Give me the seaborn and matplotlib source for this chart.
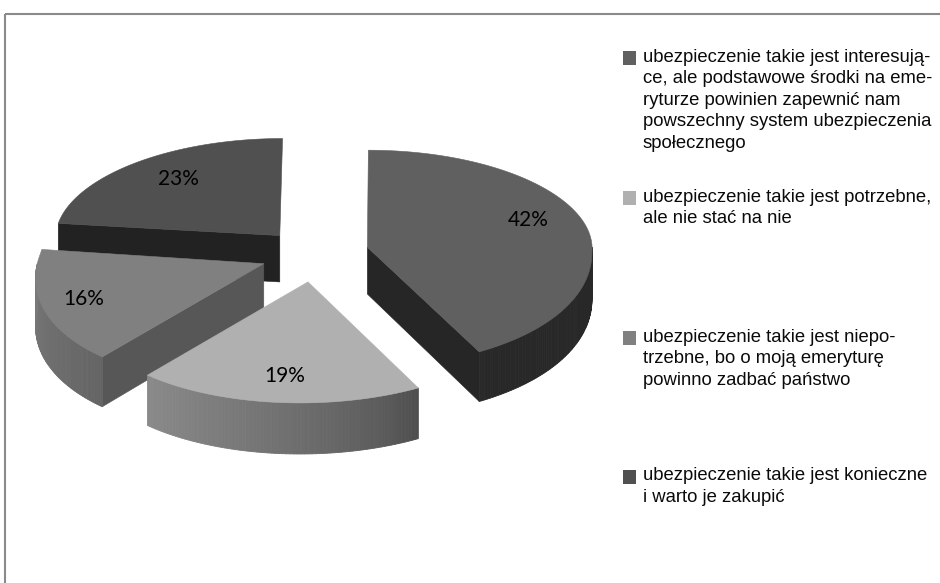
import numpy as np
import matplotlib
matplotlib.use("Agg")
import matplotlib.pyplot as plt
import seaborn as sns
from matplotlib.patches import Polygon, Rectangle

# ---------------- data ----------------
categories = [
    "ubezpieczenie takie jest interesują-\nce, ale podstawowe środki na eme-\nryturze powinien zapewnić nam\npowszechny system ubezpieczenia\nspołecznego",
    "ubezpieczenie takie jest potrzebne,\nale nie stać na nie",
    "ubezpieczenie takie jest niepo-\ntrzebne, bo o moją emeryturę\npowinno zadbać państwo",
    "ubezpieczenie takie jest konieczne\ni warto je zakupić",
]
shares = [42, 19, 16, 23]
pct_labels = ["42%", "19%", "16%", "23%"]

# ---------------- style ----------------
top_colors = ["#606060", "#b0b0b0", "#808080", "#505050"]
side_colors = ["#262626", "#6a6a6a", "#575757", "#222222"]
label_r = [0.74, 0.75, 0.82, 0.70]
label_dy = [-9, 4, -1, -6]

sns.set_theme(style="white")

CX, CY = 315, 253      # pie centre (px)
RX, RYB, RYF = 225, 97, 121   # horizontal radius, back / front vertical radii
XV = 418               # perspective centre (x)
PXF, PXB = 0.075, 0.02 # perspective widening front / narrowing back
EXP = 0.24             # explode fraction
D = 47                 # thickness (px)

fig = plt.figure(figsize=(9.4, 5.83), dpi=100)
ax = fig.add_axes([0, 0, 1, 1])
ax.set_xlim(0, 940)
ax.set_ylim(583, 0)
ax.axis("off")


def proj(U, V, dz=0.0):
    U = np.asarray(U, dtype=float)
    V = np.asarray(V, dtype=float)
    ry = np.where(V > 0, RYB, RYF)
    sx = 1.0 - np.where(V > 0, PXB, PXF) * V
    x = XV + (CX + RX * U - XV) * sx
    return x, CY - ry * V + dz * (1.0 - 0.07 * V)


def rim_shade(base_hex, th):
    base = matplotlib.colors.to_rgb(base_hex)[0]
    t = np.clip((th - 150.0) / 120.0, 0, 1)
    f = 0.42 + 0.53 * t ** 0.7
    g = min(1.0, base * f)
    return (g, g, g)


fracs = np.array(shares, dtype=float) / sum(shares)
cum = np.concatenate([[0], np.cumsum(fracs)]) * 360.0

slices = []
for i in range(len(shares)):
    t1, t2 = cum[i], cum[i + 1]
    m = np.radians((t1 + t2) / 2)
    cu, cv = EXP * np.sin(m), EXP * np.cos(m)
    slices.append((cv, i, t1, t2, cu))

# draw back to front
for cv, i, t1, t2, cu in sorted(slices, key=lambda s: -s[0]):
    th = np.linspace(t1, t2, 240)
    rad = np.radians(th)
    U = cu + np.sin(rad)
    V = cv + np.cos(rad)
    xs, ys = proj(U, V)
    cx, cy = proj(cu, cv)
    cxb, cyb = proj(cu, cv, D)
    cx, cy, cxb, cyb = float(cx), float(cy), float(cxb), float(cyb)

    # radial faces
    for ang, normal in ((t1, t1 - 90), (t2, t2 + 90)):
        if np.cos(np.radians(normal)) < -1e-6:
            a = np.radians(ang)
            ru, rv = cu + np.sin(a), cv + np.cos(a)
            rx_, ry_ = proj(ru, rv)
            rxb, ryb = proj(ru, rv, D)
            poly = [(cx, cy), (float(rx_), float(ry_)),
                    (float(rxb), float(ryb)), (cxb, cyb)]
            ax.add_patch(Polygon(poly, closed=True, facecolor=side_colors[i],
                                 edgecolor=side_colors[i], lw=0.4))

    # outer rim (front part only)
    lo, hi = max(t1, 90.0), min(t2, 270.0)
    if hi > lo:
        rt = np.linspace(lo, hi, 80)
        rr = np.radians(rt)
        ru, rv = cu + np.sin(rr), cv + np.cos(rr)
        rxs, rys = proj(ru, rv)
        bxs, bys = proj(ru, rv, D)
        for k in range(len(rt) - 1):
            col = rim_shade(top_colors[i], 0.5 * (rt[k] + rt[k + 1]))
            quad = [(rxs[k], rys[k]), (rxs[k + 1], rys[k + 1]),
                    (bxs[k + 1], bys[k + 1]), (bxs[k], bys[k])]
            ax.add_patch(Polygon(quad, closed=True, facecolor=col,
                                 edgecolor=col, lw=0.6))

    # top face
    poly = [(cx, cy)] + list(zip(xs, ys))
    ax.add_patch(Polygon(poly, closed=True, facecolor=top_colors[i],
                         edgecolor=top_colors[i], lw=0.4))

    # percentage label
    mid = np.radians((t1 + t2) / 2)
    lx, ly = proj(cu + label_r[i] * np.sin(mid), cv + label_r[i] * np.cos(mid))
    ax.text(float(lx), float(ly) + label_dy[i], pct_labels[i],
            ha="center", va="center", fontsize=15, family="Lato",
            color="black")

# ---------------- legend ----------------
mark_tops = [51, 191, 331, 470]
for i, cat in enumerate(categories):
    ax.add_patch(Rectangle((623, mark_tops[i]), 13, 14,
                           facecolor=top_colors[i], edgecolor="none"))
    for j, line in enumerate(cat.split("\n")):
        ax.text(643, mark_tops[i] + 10.5 + j * 21.6, line,
                ha="left", va="baseline", fontsize=13.3,
                family="Liberation Sans", color="#0a0a0a")

# frame
ax.add_patch(Rectangle((4.5, 13.5), 1000, 1000, fill=False,
                       edgecolor="#8a8a8a", lw=1.5))

fig.savefig("out.png", dpi=100)
